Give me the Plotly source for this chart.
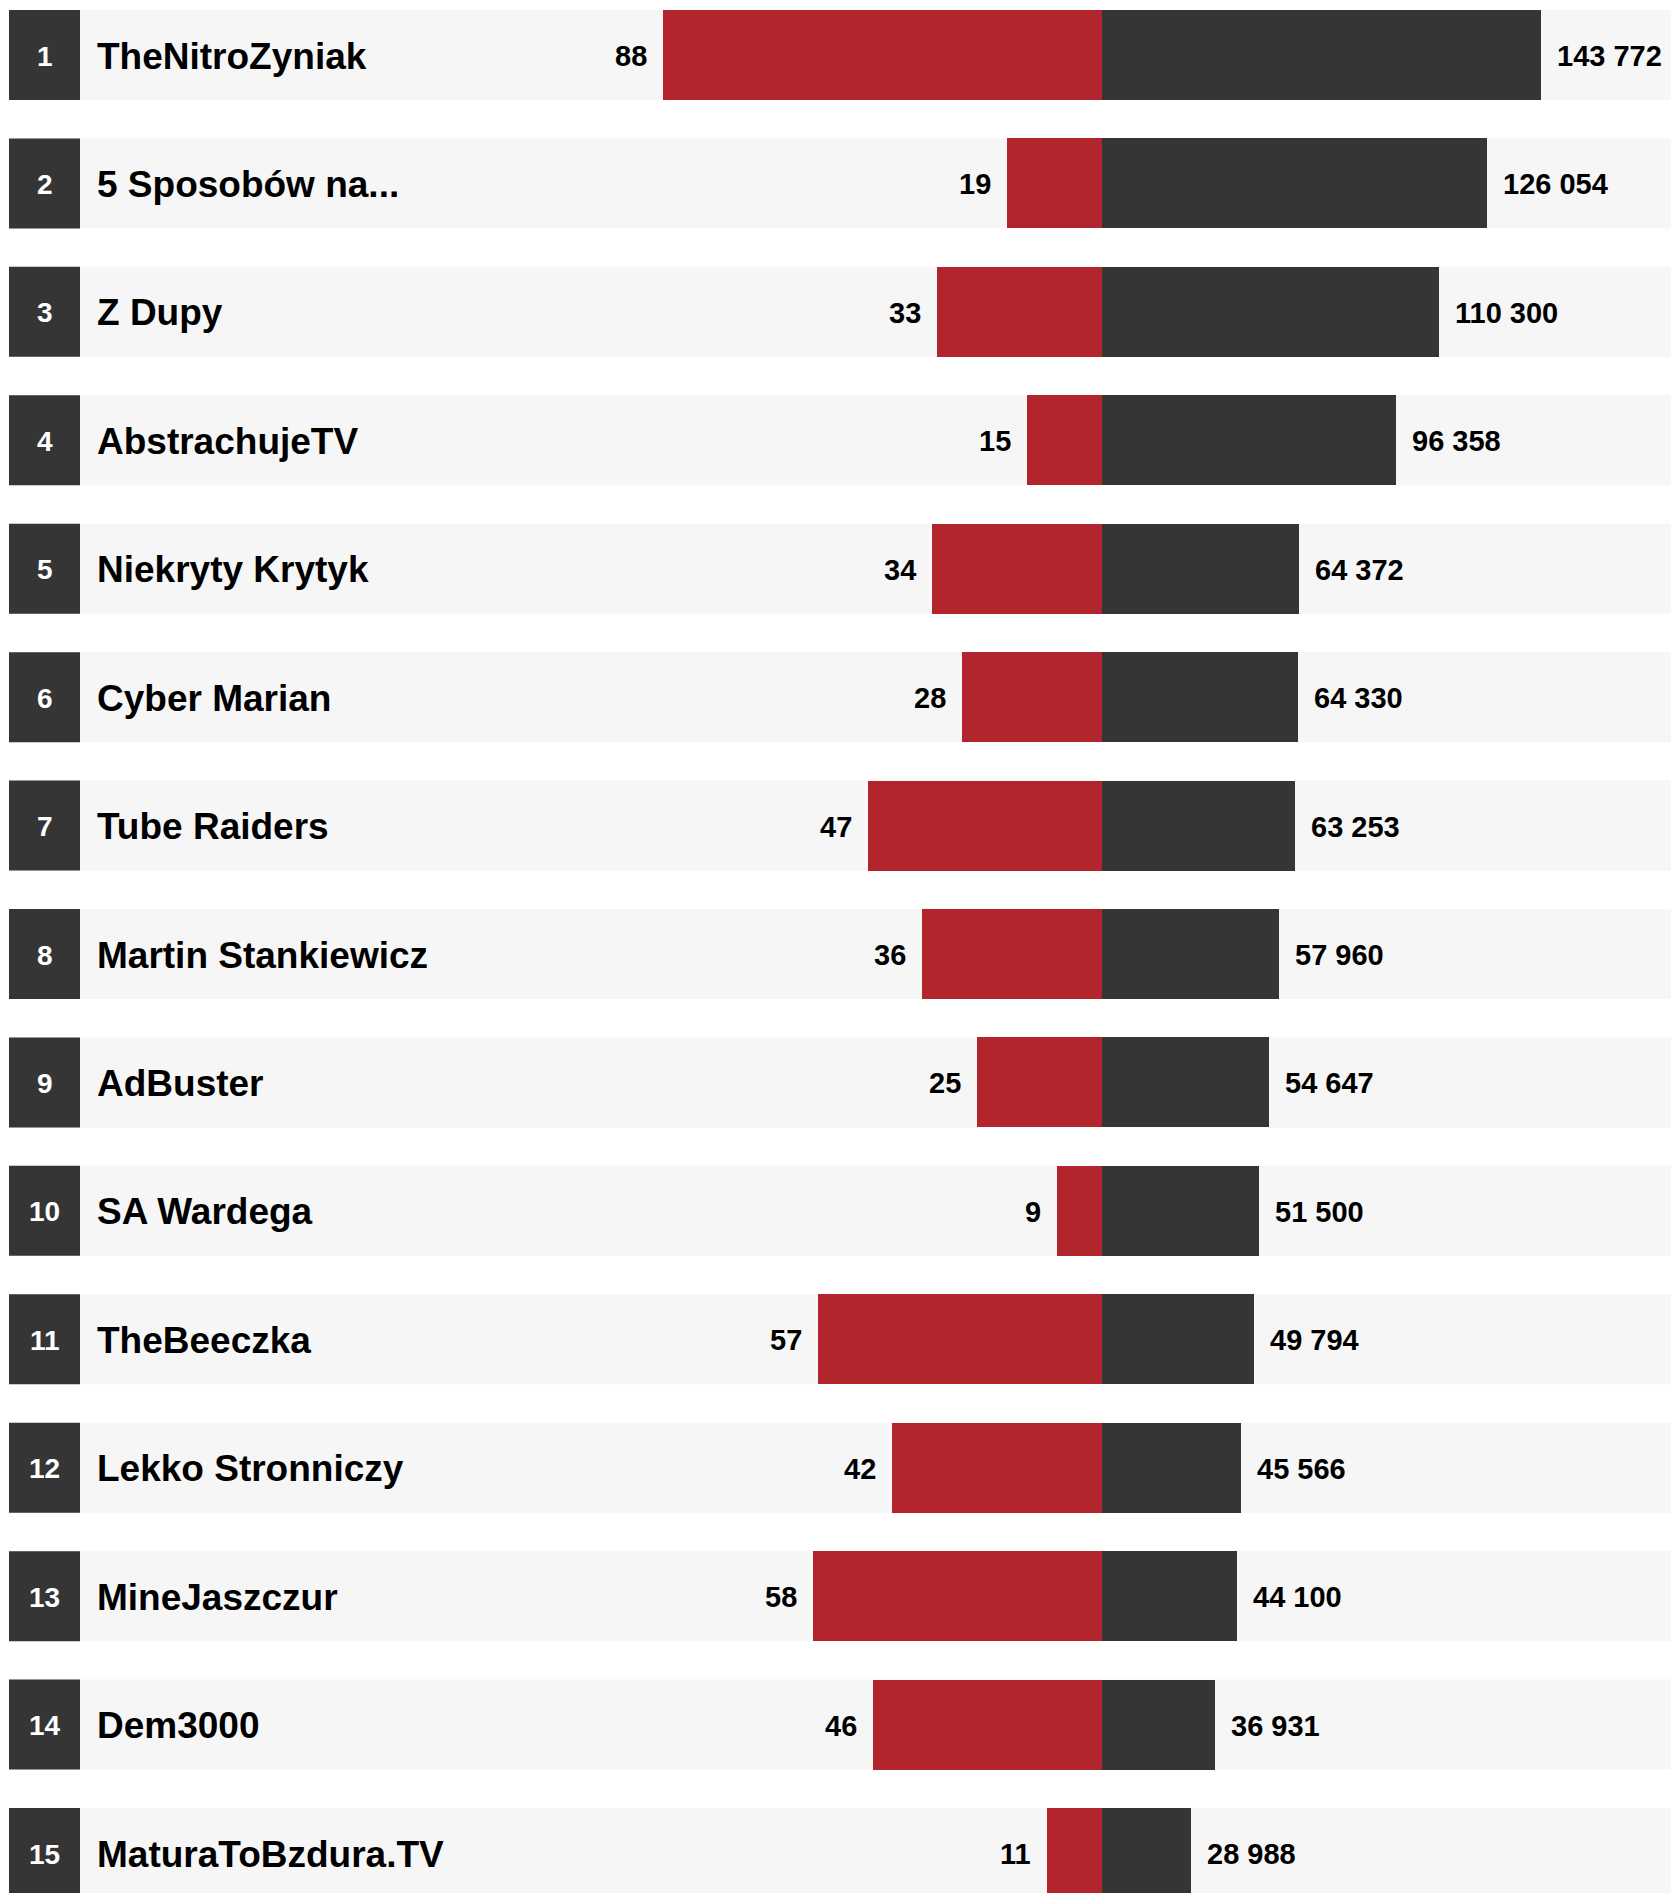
import plotly.graph_objects as go

# ---------------- data ----------------
ranks = list(range(1, 16))
names = [
    "TheNitroZyniak", "5 Sposobów na...", "Z Dupy", "AbstrachujeTV",
    "Niekryty Krytyk", "Cyber Marian", "Tube Raiders", "Martin Stankiewicz",
    "AdBuster", "SA Wardega", "TheBeeczka", "Lekko Stronniczy",
    "MineJaszczur", "Dem3000", "MaturaToBzdura.TV",
]
red_values = [88, 19, 33, 15, 34, 28, 47, 36, 25, 9, 57, 42, 58, 46, 11]
dark_values = [143772, 126054, 110300, 96358, 64372, 64330, 63253, 57960,
               54647, 51500, 49794, 45566, 44100, 36931, 28988]

# ---------------- layout constants ----------------
W, H = 1671, 1893
CENTER = 1102          # px of the shared zero line
HALF = 439             # px length of the longest bar on each side
ROW0 = 55              # px centre of first row
PITCH = 128.43         # px between rows
BAR_FRAC = 90 / PITCH  # bar / band height fraction
LEFT = 9               # left edge of rows
RANK_RIGHT = 80        # right edge of the rank box
NAME_X = 95

RED = "#B2252D"
DARK = "#353535"
BG = "#F6F6F6"
FONT = "Liberation Sans, Arial, Helvetica, sans-serif"

rows = list(range(len(names)))
kd = HALF / max(dark_values)
kr = HALF / max(red_values)

fig = go.Figure()
fig.add_trace(go.Bar(
    x=dark_values, y=rows, orientation="h", width=BAR_FRAC,
    marker=dict(color=DARK, line=dict(width=0)), xaxis="x", yaxis="y",
    hoverinfo="skip", showlegend=False,
))
fig.add_trace(go.Bar(
    x=red_values, y=rows, orientation="h", width=BAR_FRAC,
    marker=dict(color=RED, line=dict(width=0)), xaxis="x2", yaxis="y",
    hoverinfo="skip", showlegend=False,
))

shapes = []
annotations = []
for i, (rk, nm, rv, dv) in enumerate(zip(ranks, names, red_values, dark_values)):
    y0, y1 = i - BAR_FRAC / 2, i + BAR_FRAC / 2
    shapes.append(dict(type="rect", xref="paper", yref="y", x0=LEFT / W, x1=1,
                       y0=y0, y1=y1, fillcolor=BG, line=dict(width=0), layer="below"))
    shapes.append(dict(type="rect", xref="paper", yref="y", x0=LEFT / W, x1=RANK_RIGHT / W,
                       y0=y0, y1=y1, fillcolor=DARK, line=dict(width=0), layer="below"))
    annotations.append(dict(xref="paper", yref="y", x=(LEFT + RANK_RIGHT) / 2 / W, y=i,
                            text=f"<b>{rk}</b>", showarrow=False, xanchor="center",
                            yanchor="middle", yshift=-1,
                            font=dict(family=FONT, size=28, color="white")))
    annotations.append(dict(xref="paper", yref="y", x=NAME_X / W, y=i,
                            text=f"<b>{nm}</b>", showarrow=False, xanchor="left",
                            yanchor="middle", yshift=-1,
                            font=dict(family=FONT, size=37, color="black")))
    annotations.append(dict(xref="x2", yref="y", x=rv, y=i, xshift=-14, yshift=-1,
                            text=f"<b>{rv}</b>", showarrow=False, xanchor="right",
                            yanchor="middle", font=dict(family=FONT, size=29, color="black")))
    annotations.append(dict(xref="x", yref="y", x=dv, y=i, xshift=14, yshift=-1,
                            text="<b>" + f"{dv:,}".replace(",", " ") + "</b>",
                            showarrow=False, xanchor="left",
                            yanchor="middle", font=dict(family=FONT, size=29, color="black")))

axis_common = dict(showgrid=False, zeroline=False, showticklabels=False,
                   showline=False, ticks="", fixedrange=True)

fig.update_layout(
    width=W, height=H,
    margin=dict(l=0, r=0, t=0, b=0, pad=0),
    paper_bgcolor="white", plot_bgcolor="white",
    barmode="overlay", bargap=0,
    xaxis=dict(range=[-CENTER / kd, (W - CENTER) / kd], domain=[0, 1], **axis_common),
    xaxis2=dict(range=[CENTER / kr, -(W - CENTER) / kr], overlaying="x",
                anchor="y", domain=[0, 1], **axis_common),
    yaxis=dict(range=[(H - ROW0) / PITCH, -ROW0 / PITCH], **axis_common),
    shapes=shapes,
    annotations=annotations,
    showlegend=False,
)

fig.write_html(
    "out.html",
    config={"displayModeBar": False, "staticPlot": True},
    post_script="document.body.style.margin='0';document.body.style.overflow='hidden';",
)
